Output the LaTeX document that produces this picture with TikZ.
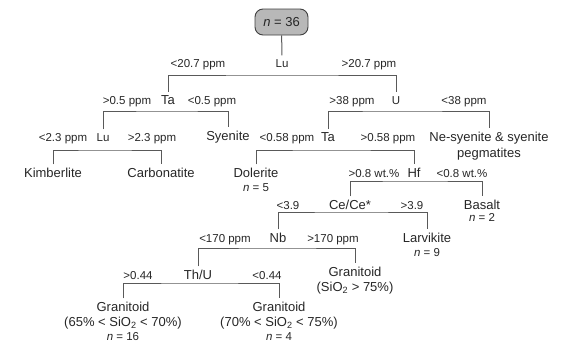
\documentclass[tikz,border=0pt]{standalone}
\usepackage{fontspec}
\setmainfont{Liberation Sans}
\usetikzlibrary{positioning}

\begin{document}
\begin{tikzpicture}[
    x=1pt, y=-1pt,
    every node/.style={text=black!85},
    root/.style={rectangle, draw=black!75, fill=black!28, rounded corners=8pt, line width=0.9pt, minimum width=53pt, minimum height=26pt, font=\fontsize{13}{15}\selectfont},
    var/.style={anchor=base, inner sep=3.5pt, font=\fontsize{13}{15}\selectfont},
    varsm/.style={var, font=\fontsize{11.5}{14}\selectfont},
    leaf/.style={anchor=base, inner sep=3.5pt, align=center, font=\fontsize{13}{15}\selectfont},
    cond/.style={anchor=base, inner sep=1pt, font=\fontsize{11.5}{14}\selectfont},
    count/.style={cond},
    link/.style={draw=black!65, line width=1pt},
]
\useasboundingbox (0,0) rectangle (578,346);

% root and first split
\node[root] (root) at (281.5,22) {\textit{n} = 36};
\node[varsm] (lu1) at (282,67.1) {Lu};
\node[cond] (lu1l) at (198,67.1) {<20.7 ppm};
\node[cond] (lu1r) at (369,67.1) {>20.7 ppm};
\coordinate (b1) at (282,75);

% left branch
\node[var] (ta1) at (168,104.6) {Ta};
\node[cond] (ta1l) at (127,104.1) {>0.5 ppm};
\node[cond] (ta1r) at (212,104.1) {<0.5 ppm};
\coordinate (b2) at (168,111);
\node[varsm] (lu2) at (103,141.1) {Lu};
\node[leaf] (syen) at (228,140.6) {Syenite};
\node[cond] (lu2l) at (63,141.1) {<2.3 ppm};
\node[cond] (lu2r) at (152,141.1) {>2.3 ppm};
\coordinate (b3) at (103,150);
\node[leaf] (kimb) at (53,177.6) {Kimberlite};
\node[leaf] (carb) at (161,177.6) {Carbonatite};

% right branch
\node[varsm] (u1) at (396,104.1) {U};
\node[cond] (u1l) at (352,104.1) {>38 ppm};
\node[cond] (u1r) at (464,104.1) {<38 ppm};
\coordinate (b4) at (396,111);
\node[var] (ta2) at (328,141.6) {Ta};
\node[leaf] (nesy) at (489,157.6) {Ne-syenite \& syenite\\[1pt]pegmatites};
\node[cond] (ta2l) at (287,141.1) {<0.58 ppm};
\node[cond] (ta2r) at (388,141.1) {>0.58 ppm};
\coordinate (b5) at (328,150);
\node[leaf] (dol) at (256,177.6) {Dolerite};
\node[count, below=4.3pt of dol.base] (dolN) {\textit{n} = 5};
\node[var] (hf) at (414,177.6) {Hf};
\node[cond] (hfl) at (374,177.1) {>0.8 wt.\%};
\node[cond] (hfr) at (462,177.1) {<0.8 wt.\%};
\coordinate (b6) at (414,181);
\node[var] (cece) at (350,209.6) {Ce/Ce*};
\node[leaf] (bas) at (482,209.6) {Basalt};
\node[count, below=2.3pt of bas.base] (basN) {\textit{n} = 2};
\node[cond] (cecel) at (288,209.1) {<3.9};
\node[cond] (ceceR) at (412,209.1) {>3.9};
\coordinate (b7) at (350,212);
\node[var] (nb) at (278,242.6) {Nb};
\node[leaf] (lar) at (427,242.6) {Larvikite};
\node[count, below=4.3pt of lar.base] (larN) {\textit{n} = 9};
\node[cond] (nbl) at (225,242.1) {<170 ppm};
\node[cond] (nbr) at (333,242.1) {>170 ppm};
\coordinate (b8) at (278,248);
\node[var] (thu) at (198,279.6) {Th/U};
\node[leaf] (gr3) at (355,291.6) {Granitoid\\(SiO\textsubscript{2} > 75\%)};
\node[cond] (thul) at (138,279.1) {>0.44};
\node[cond] (thur) at (267,279.1) {<0.44};
\coordinate (b9) at (198,283);
\node[leaf] (gr1) at (123,326.6) {Granitoid\\(65\% < SiO\textsubscript{2} < 70\%)};
\node[count, below=4.3pt of gr1.base] (gr1N) {\textit{n} = 16};
\node[leaf] (gr2) at (279,326.6) {Granitoid\\(70\% < SiO\textsubscript{2} < 75\%)};
\node[count, below=4.3pt of gr2.base] (gr2N) {\textit{n} = 4};

% connectors
\draw[link] (root) -- (lu1);
\draw[link] (ta1) |- (b1) -| (u1);
\draw[link] (lu2) |- (b2) -| (syen);
\draw[link] (kimb) |- (b3) -| (carb);
\draw[link] (ta2) |- (b4) -| (nesy);
\draw[link] (dol) |- (b5) -| (hf);
\draw[link] (cece) |- (b6) -| (bas);
\draw[link] (nb) |- (b7) -| (lar);
\draw[link] (thu) |- (b8) -| (gr3);
\draw[link] (gr1) |- (b9) -| (gr2);

\end{tikzpicture}
\end{document}
